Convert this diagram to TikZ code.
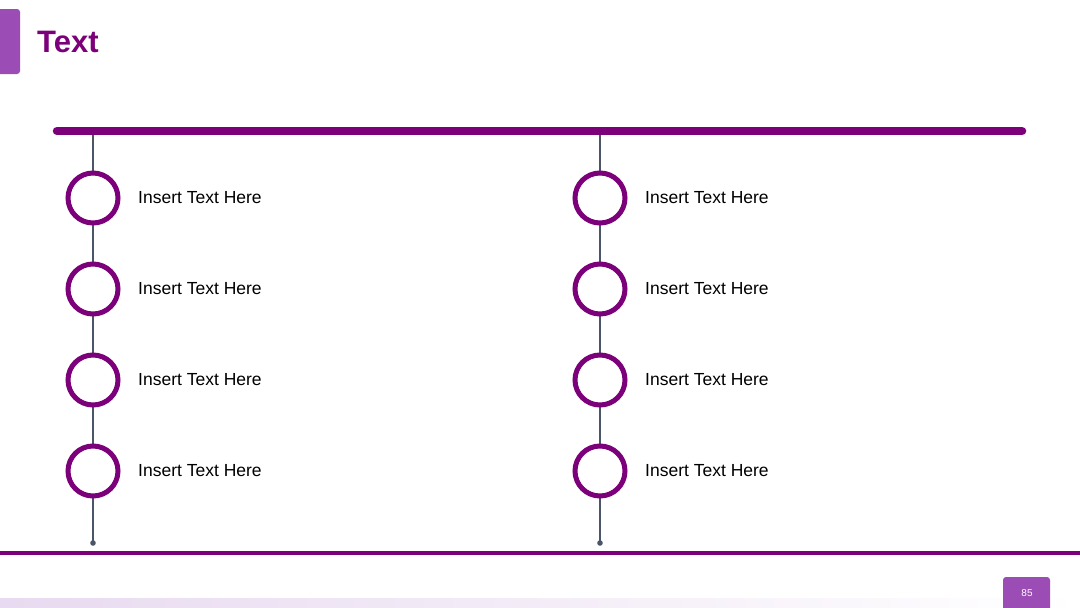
\documentclass[tikz,border=0pt]{standalone}
\usepackage{fontspec}
\setmainfont{Liberation Sans}
\begin{document}
\begin{tikzpicture}[x=1pt,y=-1pt,
  ringnode/.style={circle,draw=mainp,line width=5pt,fill=white,minimum size=50pt,inner sep=0pt},
  lbl/.style={anchor=west,font=\fontsize{17.5}{20}\selectfont,inner sep=0pt},
  stem/.style={draw=slate,line width=1.2pt}]
\definecolor{mainp}{HTML}{7B0079}
\definecolor{lightp}{HTML}{9B4DB5}
\definecolor{slate}{HTML}{4A5568}
\definecolor{band}{HTML}{E8DAF0}
\useasboundingbox (0,0) rectangle (1080,608);
\fill[white] (0,0) rectangle (1080,608);
\fill[lightp,rounded corners=3pt] (-5,9) rectangle (20,74);
\node[anchor=west,text=mainp,font=\fontsize{31}{36}\selectfont\bfseries,inner sep=0pt] (title) at (37,42) {Text};
\fill[left color=band,right color=white] (0,598) rectangle (1080,608);
\foreach \cx/\nm in {93/L,600/R}{
  \coordinate (\nm top) at (\cx,131);
  \coordinate (\nm end) at (\cx,543);
  \draw[stem] (\nm top) -- (\nm end);
  \fill[slate] (\nm end) circle (2.8);
  \foreach \cy [count=\i] in {198,289,380,471}{
    \node[ringnode] (\nm c\i) at (\cx,\cy) {};
    \node[lbl] (\nm t\i) at (\cx+45,\cy) {Insert Text Here};
  }
}
\draw[mainp,line width=8.5pt,line cap=round] (57,131) -- (1022,131);
\draw[mainp,line width=3.5pt] (0,553) -- (1080,553);
\fill[lightp,rounded corners=3pt] (1003,577) rectangle (1050,615);
\node[text=white,font=\fontsize{10}{12}\selectfont] (pg) at (1027,593) {85};
\end{tikzpicture}
\end{document}
